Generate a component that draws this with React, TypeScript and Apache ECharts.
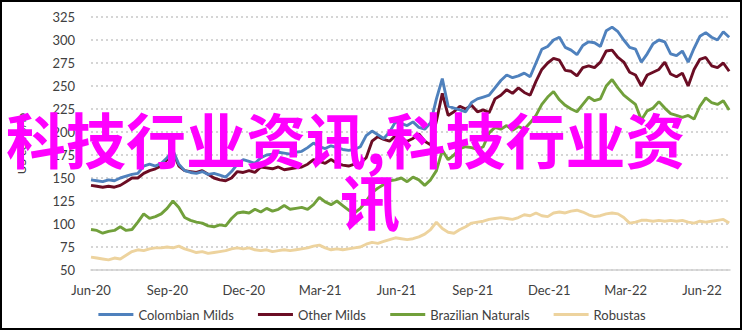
import React, { useEffect, useRef } from "react";
import * as echarts from "echarts";

const tickLabels = ["Jun-20", "Sep-20", "Dec-20", "Mar-21", "Jun-21", "Sep-21", "Dec-21", "Mar-22", "Jun-22"];
const seriesNames = ["Colombian Milds", "Other Milds", "Brazilian Naturals", "Robustas"];

// weekly observations starting 1 Jun 2020 (US cents/lb)
const colombianMilds = [
  148, 147, 146, 148, 147, 150, 152, 154, 155, 163, 165, 163, 166, 172, 180, 165, 158, 156, 155, 157,
  154, 155, 153, 151, 157, 165, 170, 168, 166, 172, 175, 176, 178, 177, 176, 178, 179, 183, 188, 184,
  182, 185, 183, 181, 180, 181, 184, 196, 201, 197, 193, 200, 211, 209, 207, 211, 205, 203, 210, 236,
  258, 228, 226, 224, 222, 232, 236, 238, 240, 248, 256, 262, 259, 261, 264, 260, 275, 290, 293, 300,
  303, 292, 289, 284, 294, 298, 297, 293, 310, 314, 309, 300, 292, 290, 276, 285, 296, 300, 298, 285,
  283, 288, 276, 291, 304, 308, 303, 300, 309, 303,
];
const otherMilds = [
  142, 141, 140, 141, 140, 142, 146, 150, 150, 155, 158, 160, 163, 170, 178, 163, 158, 157, 156, 158,
  154, 150, 148, 147, 150, 157, 156, 158, 156, 162, 161, 160, 162, 159, 160, 161, 162, 165, 170, 168,
  166, 170, 166, 164, 163, 165, 166, 172, 190, 195, 192, 190, 196, 191, 190, 193, 198, 190, 186, 212,
  242, 218, 222, 228, 225, 229, 222, 224, 221, 236, 240, 246, 242, 248, 243, 240, 255, 268, 275, 280,
  278, 267, 266, 261, 270, 272, 270, 276, 288, 289, 281, 276, 265, 262, 250, 262, 265, 268, 276, 263,
  260, 264, 250, 268, 279, 281, 272, 270, 275, 266,
];
const brazilianNaturals = [
  94, 93, 90, 92, 93, 97, 93, 94, 102, 111, 106, 108, 111, 117, 125, 118, 107, 104, 102, 101,
  98, 97, 99, 98, 106, 112, 113, 112, 116, 113, 117, 114, 116, 120, 116, 117, 118, 116, 121, 129,
  124, 121, 125, 120, 115, 112, 117, 125, 134, 139, 143, 147, 148, 150, 146, 151, 148, 142, 148, 158,
  180, 170, 175, 182, 184, 183, 181, 184, 199, 205, 203, 207, 202, 206, 203, 210, 218, 230, 238, 244,
  235, 229, 225, 222, 230, 238, 234, 236, 250, 257, 248, 240, 235, 230, 213, 223, 226, 233, 226, 220,
  218, 216, 218, 214, 228, 237, 232, 230, 234, 224,
];
const robustas = [
  64, 63, 62, 61, 63, 62, 66, 70, 72, 71, 73, 74, 74, 75, 74, 76, 73, 71, 69, 70,
  68, 69, 70, 71, 73, 74, 73, 74, 72, 71, 72, 70, 71, 72, 71, 72, 73, 74, 76, 77,
  74, 72, 73, 72, 73, 74, 75, 78, 80, 79, 81, 83, 85, 84, 83, 84, 86, 89, 94, 102,
  95, 91, 90, 94, 97, 101, 102, 103, 105, 106, 107, 106, 105, 107, 110, 109, 112, 109, 108, 112,
  113, 112, 114, 115, 113, 110, 108, 109, 111, 112, 111, 107, 101, 102, 104, 104, 103, 104, 103, 104,
  103, 104, 102, 101, 103, 102, 103, 104, 105, 101,
];

const colors = ["#4F81BD", "#6B0D24", "#71A03B", "#EDD39E"];
const FONT = "Lato, 'DejaVu Sans', sans-serif";

export default function App() {
  const ref = useRef<HTMLDivElement>(null);
  useEffect(() => {
    document.body.style.margin = "0";
    if (!ref.current) return;
    const chart = echarts.init(ref.current, undefined, { renderer: "svg" });
    const toXY = (arr: number[]) => arr.map((v, i) => [(i * 7) / 30.4375, v]);
    const all = [colombianMilds, otherMilds, brazilianNaturals, robustas];
    chart.setOption({
      animation: false,
      backgroundColor: "#ffffff",
      grid: { left: 91, right: 14, top: 17, bottom: 61, containLabel: false },
      xAxis: {
        type: "value",
        min: 0,
        max: 25.1,
        interval: 3,
        axisLine: { show: true, onZero: false, lineStyle: { color: "#d0d0d0", width: 1.5 } },
        axisTick: { show: false },
        splitLine: { show: false },
        axisLabel: {
          color: "#404040",
          fontFamily: FONT,
          fontSize: 13,
          margin: 13,
          showMaxLabel: false,
          formatter: (v: number) => tickLabels[Math.round(v / 3)] ?? "",
        },
      },
      yAxis: {
        type: "value",
        min: 50,
        max: 325,
        interval: 25,
        name: "US cents/lb",
        nameLocation: "middle",
        nameRotate: 90,
        nameGap: 64,
        nameTextStyle: { color: "#404040", fontFamily: FONT, fontSize: 12 },
        axisLine: { show: false },
        axisTick: { show: false },
        axisLabel: { color: "#404040", fontFamily: FONT, fontSize: 13, margin: 16 },
        splitLine: { show: true, lineStyle: { color: "#c8c8c8", width: 1.5, type: [2, 3] } },
      },
      legend: {
        bottom: 5,
        left: "center",
        icon: "rect",
        itemWidth: 35,
        itemHeight: 3,
        itemGap: 24,
        textStyle: { color: "#404040", fontFamily: FONT, fontSize: 13 },
        data: seriesNames,
      },
      series: all.map((arr, k) => ({
        name: seriesNames[k],
        type: "line",
        data: toXY(arr),
        showSymbol: false,
        symbol: "none",
        color: colors[k],
        lineStyle: { color: colors[k], width: 2.9 },
        z: 10 - k,
      })),
      graphic: [
        {
          type: "rect",
          shape: { x: 1, y: 1, width: 740, height: 328 },
          style: { fill: "none", stroke: "#000000", lineWidth: 2 },
          z: 200,
        },
        {
          type: "text",
          x: 6,
          y: 107,
          z: 300,
          style: {
            text: "科技行业资讯,科技行业资",
            fill: "#ff00ff",
            font: "bold 60px 'Noto Sans CJK SC'",
            textVerticalAlign: "top",
          },
        },
        {
          type: "text",
          x: 340,
          y: 169,
          z: 300,
          style: {
            text: "讯",
            fill: "#ff00ff",
            font: "bold 60px 'Noto Sans CJK SC'",
            textVerticalAlign: "top",
          },
        },
      ],
    });
    return () => chart.dispose();
  }, []);
  return <div ref={ref} style={{ position: "absolute", left: 0, top: 0, width: 744, height: 331 }} />;
}
